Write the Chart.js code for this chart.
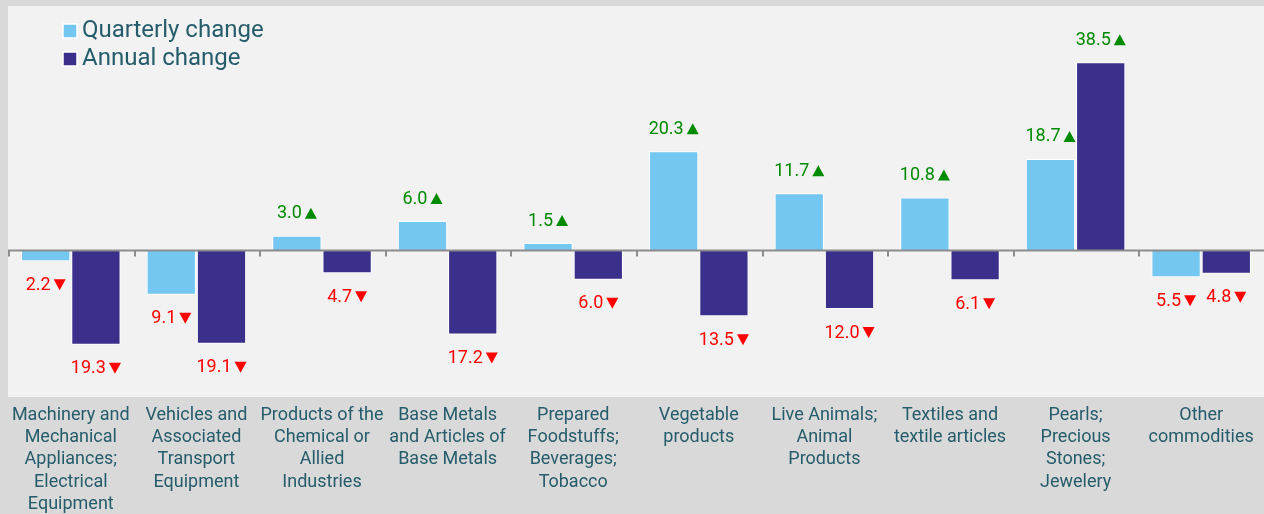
<!DOCTYPE html>
<html lang="en">
<head>
    <meta charset="UTF-8">
    <title>Quarterly and annual change by commodity</title>
    <script src="https://cdn.jsdelivr.net/npm/chart.js"></script>
    <style>
        html, body { margin: 0; padding: 0; background: #d9d9d9; }
        .chart-container { position: relative; width: 1264px; height: 514px; }
    </style>
</head>
<body>
    <div class="chart-container"><canvas id="tradeChart"></canvas></div>

    <script>
        // categories (split in lines as printed under the axis)
        const categories = [
            ["Machinery and", "Mechanical", "Appliances;", "Electrical", "Equipment"],
            ["Vehicles and", "Associated", "Transport", "Equipment"],
            ["Products of the", "Chemical or", "Allied", "Industries"],
            ["Base Metals", "and Articles of", "Base Metals"],
            ["Prepared", "Foodstuffs;", "Beverages;", "Tobacco"],
            ["Vegetable", "products"],
            ["Live Animals;", "Animal", "Products"],
            ["Textiles and", "textile articles"],
            ["Pearls;", "Precious", "Stones;", "Jewelery"],
            ["Other", "commodities"]
        ];
        const quarterlyChange = [-2.2, -9.1, 3.0, 6.0, 1.5, 20.3, 11.7, 10.8, 18.7, -5.5];
        const annualChange = [-19.3, -19.1, -4.7, -17.2, -6.0, -13.5, -12.0, -6.1, 38.5, -4.8];
        const seriesNames = ["Quarterly change", "Annual change"];

        const FONT = "Roboto, 'Open Sans', sans-serif";
        const TEXT_COLOR = '#255c6b';

        // plot background
        const plotBg = {
            id: 'plotBg',
            beforeDraw(chart) {
                const { ctx, chartArea: a } = chart;
                ctx.save();
                ctx.fillStyle = '#f2f2f2';
                ctx.fillRect(a.left, a.top, a.right - a.left, a.bottom - a.top);
                ctx.restore();
            }
        };

        // zero line with small ticks between categories
        const zeroLine = {
            id: 'zeroLine',
            afterDatasetsDraw(chart) {
                const { ctx, chartArea: a, scales: { x, y } } = chart;
                const y0 = y.getPixelForValue(0);
                ctx.save();
                ctx.strokeStyle = '#8c8c8c';
                ctx.lineWidth = 2;
                ctx.beginPath();
                ctx.moveTo(a.left, y0);
                ctx.lineTo(a.right, y0);
                const step = (a.right - a.left) / categories.length;
                for (let i = 0; i < categories.length; i++) {
                    const tx = Math.round(a.left + step * i) + 1;
                    ctx.moveTo(tx, y0);
                    ctx.lineTo(tx, y0 + 6);
                }
                ctx.stroke();
                ctx.restore();
            }
        };

        // value labels with up / down arrows
        const valueLabels = {
            id: 'valueLabels',
            afterDatasetsDraw(chart) {
                const { ctx } = chart;
                ctx.save();
                ctx.font = '18px ' + FONT;
                ctx.textBaseline = 'middle';
                ctx.textAlign = 'left';
                chart.data.datasets.forEach((ds, di) => {
                    chart.getDatasetMeta(di).data.forEach((bar, i) => {
                        const v = ds.data[i];
                        const up = v >= 0;
                        const txt = Math.abs(v).toFixed(1);
                        const tw = ctx.measureText(txt).width;
                        const triW = 12, gap = 3;
                        const total = tw + gap + triW;
                        const left = bar.x - total / 2;
                        const cy = up ? bar.y - 23 : bar.y + 23;
                        ctx.fillStyle = up ? '#008a00' : '#ff0000';
                        ctx.fillText(txt, left, cy + 1);
                        const tx = left + tw + gap;
                        ctx.beginPath();
                        if (up) {
                            ctx.moveTo(tx, cy + 6);
                            ctx.lineTo(tx + triW, cy + 6);
                            ctx.lineTo(tx + triW / 2, cy - 5);
                        } else {
                            ctx.moveTo(tx, cy - 5);
                            ctx.lineTo(tx + triW, cy - 5);
                            ctx.lineTo(tx + triW / 2, cy + 6);
                        }
                        ctx.closePath();
                        ctx.fill();
                    });
                });
                ctx.restore();
            }
        };

        // legend in the top left of the plot
        const topLegend = {
            id: 'topLegend',
            afterDraw(chart) {
                const { ctx } = chart;
                ctx.save();
                ctx.font = '24px ' + FONT;
                ctx.textBaseline = 'middle';
                chart.data.datasets.forEach((ds, i) => {
                    const cy = 31 + i * 28;
                    ctx.fillStyle = ds.backgroundColor;
                    ctx.fillRect(63, cy - 7, 14, 14);
                    ctx.strokeStyle = '#ffffff';
                    ctx.lineWidth = 1.5;
                    ctx.strokeRect(63, cy - 7, 14, 14);
                    ctx.fillStyle = TEXT_COLOR;
                    ctx.fillText(seriesNames[i], 82, cy);
                });
                ctx.restore();
            }
        };

        new Chart(document.getElementById('tradeChart'), {
            type: 'bar',
            data: {
                labels: categories,
                datasets: [
                    { label: seriesNames[0], data: quarterlyChange, backgroundColor: '#74c7f0', borderColor: '#ffffff', borderWidth: 1 },
                    { label: seriesNames[1], data: annualChange, backgroundColor: '#3b2f8c', borderColor: '#ffffff', borderWidth: 1 }
                ]
            },
            options: {
                responsive: true,
                maintainAspectRatio: false,
                animation: false,
                layout: { padding: { top: 6, left: 8, right: 0, bottom: 0 } },
                datasets: { bar: { categoryPercentage: 0.8, barPercentage: 0.98 } },
                plugins: { legend: { display: false }, tooltip: { enabled: false } },
                scales: {
                    x: {
                        grid: { display: false, drawTicks: false },
                        border: { display: false },
                        afterFit(scale) { scale.height = 117; },
                        ticks: {
                            autoSkip: false, maxRotation: 0, minRotation: 0, padding: 7,
                            color: TEXT_COLOR,
                            font: { family: FONT, size: 18, lineHeight: 1.24 }
                        }
                    },
                    y: { display: false, min: -30, max: 50 }
                }
            },
            plugins: [plotBg, zeroLine, valueLabels, topLegend]
        });
    </script>
</body>
</html>
